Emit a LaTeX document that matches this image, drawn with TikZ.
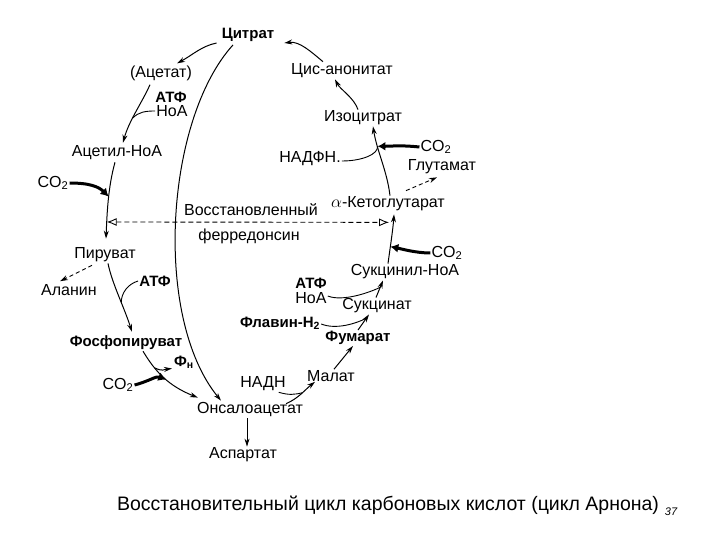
\documentclass[tikz,border=0pt]{standalone}
\usepackage{fontspec}
\setmainfont{Liberation Sans}
\usetikzlibrary{arrows.meta,calc}

\begin{document}
\begin{tikzpicture}[x=1pt,y=-1pt,>={Stealth[length=8pt,width=5pt]},
  every node/.style={align=center,inner sep=1pt,font=\fontsize{16}{18}\selectfont},
  lblb/.style={font=\fontsize{15}{17}\selectfont\bfseries},
  rxn/.style={->,line width=1pt},
  side/.style={line width=0.9pt},
  dashrxn/.style={->,line width=0.9pt,dash pattern=on 4pt off 3pt},
  co2in/.style={line width=3pt,-{Latex[length=8pt,width=9pt]}},
  ferro/.style={line width=0.9pt,dash pattern=on 5pt off 3pt,{Latex[open,length=10pt,width=8pt]}-{Latex[open,length=10pt,width=8pt]}}]
  \useasboundingbox (0,0) rectangle (720,540);
  % metabolites
  \node[lblb] (cit) at (248,35) {Цитрат};
  \node (acetat) at (161,73) {(Ацетат)};
  \node[lblb] (atf1) at (171,97) {АТФ};
  \node (koa1) at (172,111) {НоА};
  \node (acoa) at (117,153) {Ацетил-НоА};
  \node (co2a) at (53,183) {CO\textsubscript{2}};
  \node (cisak) at (342,71) {Цис-анонитат};
  \node (isocit) at (363,118) {Изоцитрат};
  \node (co2b) at (436,147) {CO\textsubscript{2}};
  \node (nadfh) at (310,159) {НАДФН.};
  \node (glut) at (442,167) {Глутамат};
  \node (akg) at (388,204) {$\alpha$-Кетоглутарат};
  \node (vosst) at (251,210) {Восстановленный};
  \node (ferr) at (249,236) {ферредонсин};
  \node (co2c) at (447,253) {CO\textsubscript{2}};
  \node (sucoa) at (405,272) {Сукцинил-НоА};
  \node (pyr) at (105,255) {Пируват};
  \node (alan) at (69,290) {Аланин};
  \node[lblb] (atf2) at (155,281) {АТФ};
  \node[lblb] (atf3) at (311,283) {АТФ};
  \node (koa3) at (311,298) {НоА};
  \node (succ) at (377,306) {Сукцинат};
  \node[lblb] (flav) at (280,323) {Флавин-Н\textsubscript{2}};
  \node[lblb] (fum) at (358,338) {Фумарат};
  \node[lblb] (pep) at (126,343) {Фосфопируват};
  \node[lblb] (pn) at (184,362) {Ф\textsubscript{н}};
  \node (co2d) at (118,385) {CO\textsubscript{2}};
  \node (nadh) at (263,384) {НАДН};
  \node (mal) at (331,376) {Малат};
  \node (oaa) at (250,410) {Онсалоацетат};
  \node (asp) at (243,455) {Аспартат};
  \node[font=\fontsize{19.5}{22}\selectfont] (cap) at (388,505) {Восстановительный цикл карбоновых кислот (цикл Арнона)};
  \node[font=\fontsize{11}{13}\selectfont\itshape] (pg) at (671,512) {37};
  % left branch
  \draw[rxn] ($(cit.west)+(-4,8)$) .. controls +(-15,3) and +(15,-8) .. ($(acetat.north)+(16,-1)$);
  \draw[rxn] ($(acetat.south)+(-11,3)$) .. controls +(-8,18) and +(6,-22) .. ($(acoa.north)+(6,-2)$) coordinate[pos=0.6] (jkoa);
  \draw[side] (koa1.west) .. controls +(-10,0) and +(6,-6) .. (jkoa);
  \draw[rxn] ($(acoa.south)+(-2,1)$) .. controls +(-7,25) and +(1,-25) .. ($(pyr.north)+(1,-8)$) coordinate[pos=0.45] (jco2a) coordinate[pos=0.78] (jfd);
  \draw[co2in] (co2a.east) .. controls +(20,0) and +(-10,-10) .. (jco2a);
  \draw[ferro] (jfd) -- ($(akg.south)+(1,10)$);
  \draw[rxn] ($(pyr.south)+(3,0)$) .. controls +(4,20) and +(-8,-25) .. ($(pep.north)+(6,-3)$) coordinate[pos=0.6] (jatf);
  \draw[side] (atf2.west) .. controls +(-10,3) and +(0,-10) .. (jatf);
  \draw[dashrxn] ($(pyr.south)+(-13,2)$) -- ($(alan.north)+(-9,-2)$);
  \draw[rxn] ($(pep.south)+(17,0)$) .. controls +(12,20) and +(-30,-12) .. ($(oaa.north west)+(2,-4)$) coordinate[pos=0.3] (jpn) coordinate[pos=0.55] (jco2d);
  \draw[rxn] (jpn) .. controls +(8,4) and +(-8,1) .. ($(pn.south west)+(-1,-1)$);
  \draw[co2in] (co2d.east) .. controls +(15,-4) and +(-10,-4) .. (jco2d);
  % citrate cleavage
  \draw[rxn] ($(cit.south)+(-15,2)$) .. controls +(-68,75) and +(-68,-83) .. ($(oaa.north)+(-29,-1)$);
  \draw[rxn] ($(oaa.south)+(-3,0)$) -- ($(asp.north)+(4,0)$);
  % right branch
  \draw[rxn] ($(oaa.north east)+(-18,2)$) .. controls +(12,-5) and +(-10,8) .. ($(mal.south west)+(9,-1)$) coordinate[pos=0.55] (jnadh);
  \draw[side] ($(nadh.south east)+(-8,0)$) .. controls +(10,3) and +(-8,2) .. (jnadh);
  \draw[rxn] ($(mal.north)+(3,0)$) -- ($(fum.south)+(-5,0)$);
  \draw[rxn] (fum.north) -- ($(succ.south)+(-8,0)$) coordinate[pos=0.75] (jflav);
  \draw[side] ($(flav.east)+(0,1)$) .. controls +(15,6) and +(-10,5) .. (jflav);
  \draw[rxn] ($(succ.north)+(-1,0)$) -- ($(sucoa.south)+(-22,0)$) coordinate[pos=0.6] (jatp3);
  \draw[side] ($(koa3.east)+(0,-2)$) .. controls +(15,6) and +(-10,5) .. (jatp3);
  \draw[rxn] ($(sucoa.north)+(-17,0)$) .. controls +(2,-15) and +(-1,15) .. ($(akg.south)+(6,2)$) coordinate[pos=0.35] (jco2c);
  \draw[co2in] (co2c.west) .. controls +(-15,0) and +(10,2) .. (jco2c);
  \draw[rxn] ($(akg.north)+(2,0)$) .. controls +(-3,-25) and +(4,25) .. ($(isocit.south)+(10,0)$) coordinate[pos=0.72] (jiso);
  \draw[co2in] (co2b.west) .. controls +(-20,-2) and +(15,0) .. (jiso);
  \draw[side] ($(nadfh.east)+(0,2)$) .. controls +(20,0) and +(1,8) .. (jiso);
  \draw[dashrxn] ($(akg.north)+(18,-5)$) -- ($(glut.south)+(-5,2)$);
  \draw[rxn] ($(isocit.north)+(-5,0)$) .. controls +(-4,-12) and +(5,10) .. ($(cisak.south)+(-7,0)$);
  \draw[rxn] ($(cisak.north)+(-19,-1)$) .. controls +(-12,-10) and +(15,-2) .. ($(cit.east)+(9,8)$);
\end{tikzpicture}
\end{document}
